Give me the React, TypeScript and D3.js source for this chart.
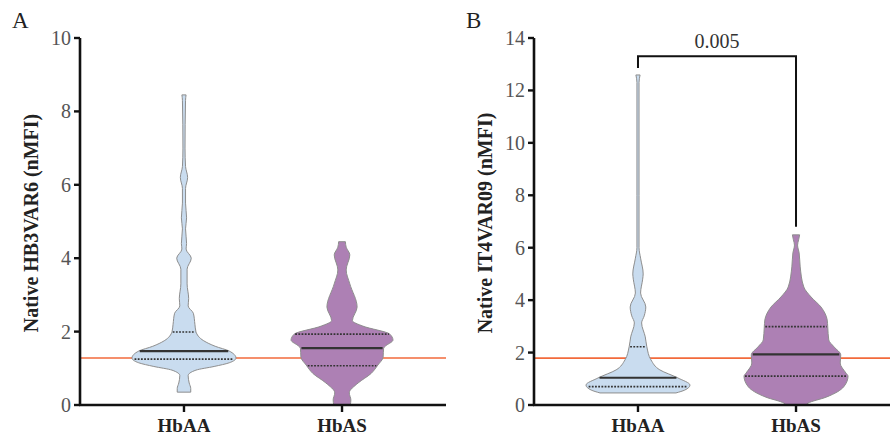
import * as d3 from "d3";

// violin outlines: [value, relative density (0..1)]
const categories = ["HbAA", "HbAS"];

const hb3var6AA: [number, number][] = [
  [8.45, 0.04], [8.3, 0.03], [7.0, 0.02], [6.5, 0.03], [6.2, 0.07], [5.9, 0.03],
  [5.5, 0.03], [5.1, 0.05], [4.8, 0.03], [4.4, 0.05], [4.25, 0.04], [4.0, 0.14],
  [3.7, 0.06], [3.3, 0.06], [2.9, 0.09], [2.7, 0.08], [2.5, 0.18], [2.2, 0.21],
  [2.0, 0.23], [1.75, 0.38], [1.6, 0.6], [1.47, 0.87], [1.28, 1.0], [1.15, 0.87],
  [1.05, 0.58], [0.95, 0.23], [0.8, 0.08], [0.6, 0.1], [0.45, 0.13], [0.35, 0.13],
];
const hb3var6AS: [number, number][] = [
  [4.45, 0.065], [4.3, 0.08], [4.09, 0.15], [3.68, 0.08], [3.3, 0.15], [2.67, 0.29],
  [2.3, 0.2], [2.15, 0.4], [1.93, 0.92], [1.77, 0.98], [1.6, 0.83], [1.55, 0.8],
  [1.3, 0.79], [1.09, 0.69], [0.86, 0.56], [0.6, 0.31], [0.33, 0.14], [0.14, 0.17],
  [0, 0.16],
];
const it4var09AA: [number, number][] = [
  [12.59, 0.04], [12.3, 0.02], [8, 0.02], [6.0, 0.02], [5.6, 0.05], [5.0, 0.1],
  [4.8, 0.09], [4.27, 0.05], [3.74, 0.15], [3.4, 0.12], [3.13, 0.07], [2.6, 0.14],
  [2.22, 0.17], [1.72, 0.25], [1.34, 0.42], [1.03, 0.77], [0.76, 1.0], [0.57, 0.9],
  [0.46, 0.73],
];
const it4var09AS: [number, number][] = [
  [6.49, 0.07], [6.3, 0.05], [6.1, 0.03], [5.8, 0.06], [5.27, 0.08], [4.5, 0.15],
  [4.12, 0.29], [3.74, 0.48], [3.24, 0.6], [2.98, 0.61], [2.48, 0.63], [2.22, 0.73],
  [1.91, 0.86], [1.6, 0.85], [1.22, 0.96], [1.1, 1.0], [0.7, 0.92], [0.3, 0.58],
  [0.07, 0.23], [0, 0.19],
];

// q1, median, q3
const hb3var6AAQuart = [1.25, 1.47, 1.99];
const hb3var6ASQuart = [1.07, 1.55, 1.93];
const it4var09AAQuart = [0.7, 1.04, 2.22];
const it4var09ASQuart = [1.1, 1.93, 2.99];

const ticksA = [0, 2, 4, 6, 8, 10];
const ticksB = [0, 2, 4, 6, 8, 10, 12, 14];
const cutoffA = 1.28;
const cutoffB = 1.79;
const pValueB = "0.005";

const fills = ["#c9dcef", "#ad80b4"];
const serif = { fontFamily: "'Liberation Serif', 'DejaVu Serif', serif" };

const widthScale = d3.scaleLinear().domain([0, 1]).range([0, 52]);

function widthAt(profile: [number, number][], v: number) {
  for (let i = 0; i < profile.length - 1; i++) {
    const [a, da] = profile[i];
    const [b, db] = profile[i + 1];
    if (v <= a && v >= b) return da + ((a - v) / (a - b)) * (db - da);
  }
  return 0;
}

const panels = [
  {
    letter: "A", left: 80, max: 10, ticks: ticksA, label: "Native HB3VAR6 (nMFI)",
    cutoff: cutoffA, groups: [
      { profile: hb3var6AA, quart: hb3var6AAQuart },
      { profile: hb3var6AS, quart: hb3var6ASQuart },
    ], pValue: null as string | null, bracketTop: 0,
  },
  {
    letter: "B", left: 534, max: 14, ticks: ticksB, label: "Native IT4VAR09 (nMFI)",
    cutoff: cutoffB, groups: [
      { profile: it4var09AA, quart: it4var09AAQuart },
      { profile: it4var09AS, quart: it4var09ASQuart },
    ], pValue: pValueB, bracketTop: 13.3,
  },
];

function Panel({ p }: { p: (typeof panels)[number] }) {
  const y = d3.scaleLinear().domain([0, p.max]).range([405, 38]);
  const x = d3.scalePoint<string>().domain(categories).range([p.left, p.left + 366]).padding(0.658);
  return (
    <g>
      <text x={p.left - 68} y={28} style={serif} fontSize={23} fill="#222">{p.letter}</text>
      <line x1={p.left} x2={p.left + 366} y1={y(p.cutoff)} y2={y(p.cutoff)} stroke="#f26a3b" strokeWidth={1.6} />
      {p.groups.map((g, i) => {
        const cx = x(categories[i])!;
        const area = d3.area<[number, number]>()
          .y((d) => y(d[0]))
          .x0((d) => cx - widthScale(d[1]))
          .x1((d) => cx + widthScale(d[1]))
          .curve(d3.curveMonotoneY);
        return (
          <g key={i}>
            <path d={area(g.profile) || ""} fill={fills[i]} stroke="#8e8e8e" strokeWidth={1} />
            {g.quart.map((q, j) => {
              const hw = widthScale(widthAt(g.profile, q)) - 1;
              return (
                <line key={j} x1={cx - hw} x2={cx + hw} y1={y(q)} y2={y(q)}
                  stroke="#333" strokeWidth={j === 1 ? 2.2 : 1.6}
                  strokeDasharray={j === 1 ? undefined : "1.8,1.4"} />
              );
            })}
          </g>
        );
      })}
      <line x1={p.left} x2={p.left} y1={y(p.max)} y2={406} stroke="#111" strokeWidth={2.6} />
      <line x1={p.left - 1} x2={p.left + 366} y1={405} y2={405} stroke="#111" strokeWidth={2.6} />
      {p.ticks.map((t) => (
        <g key={t}>
          <line x1={p.left - 6} x2={p.left} y1={y(t)} y2={y(t)} stroke="#111" strokeWidth={2.4} />
          <text x={p.left - 9} y={y(t)} dy="0.35em" textAnchor="end" style={serif} fontSize={20} fill="#555">{t}</text>
        </g>
      ))}
      {categories.map((c) => (
        <g key={c}>
          <line x1={x(c)} x2={x(c)} y1={405} y2={412} stroke="#111" strokeWidth={2.4} />
          <text x={x(c)} y={432} textAnchor="middle" style={serif} fontWeight="bold" fontSize={19} fill="#222">{c}</text>
        </g>
      ))}
      <text transform={`translate(${p.left - 42},223) rotate(-90)`} textAnchor="middle"
        style={serif} fontWeight="bold" fontSize={20} fill="#222">{p.label}</text>
      {p.pValue && (
        <g>
          <path d={`M${x(categories[0])},${y(12.55) - 8}V${y(p.bracketTop)}H${x(categories[1])}V${y(6.8)}`}
            fill="none" stroke="#111" strokeWidth={2} />
          <text x={(x(categories[0])! + x(categories[1])!) / 2} y={y(p.bracketTop) - 8} textAnchor="middle"
            style={serif} fontSize={20} fill="#333">{p.pValue}</text>
        </g>
      )}
    </g>
  );
}

export default function App() {
  return (
    <svg width={890} height={437} style={{ position: "absolute", left: 0, top: 0, background: "#fff" }}>
      {panels.map((p) => <Panel key={p.letter} p={p} />)}
    </svg>
  );
}
